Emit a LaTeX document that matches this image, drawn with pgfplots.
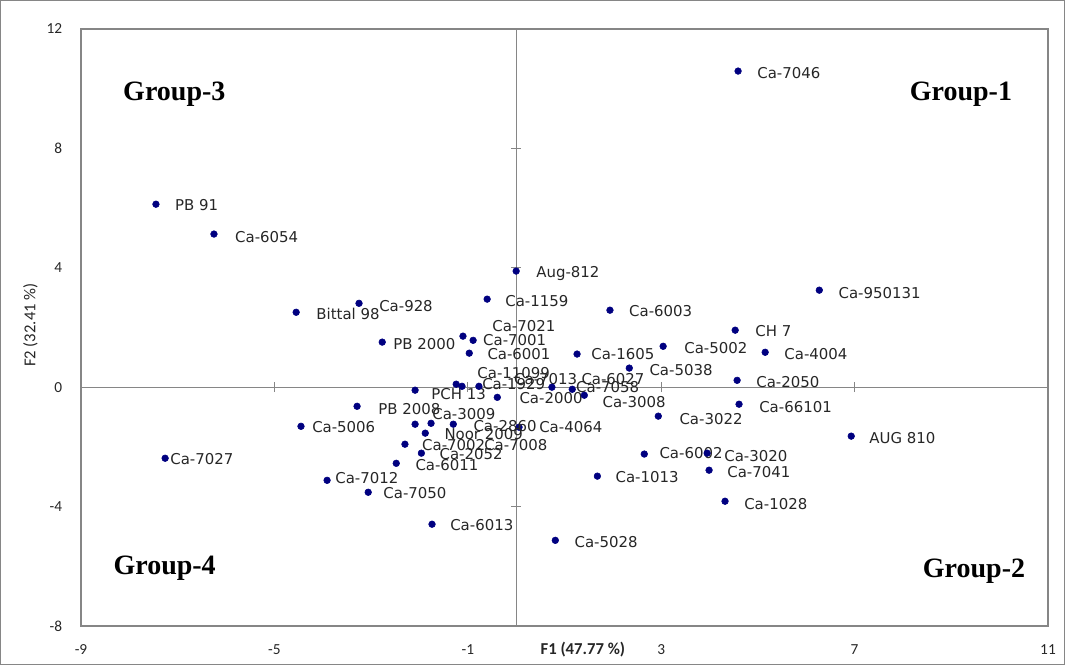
\documentclass[border=0pt]{standalone}
\usepackage{fontspec}
\usepackage{pgfplots}
\usepackage{pgfplotstable}
\pgfplotsset{compat=1.18}
\setmainfont{DejaVu Sans}
\newfontfamily\calfont{Carlito}
\newfontfamily\grpfont{Liberation Serif}
\definecolor{ptc}{RGB}{0,0,128}
\definecolor{frc}{RGB}{134,134,134}

\pgfplotstableread[col sep=comma]{
x,y,dx,dy,label
-7.45,6.13,19,-1,PB 91
-6.25,5.13,21,-3,Ca-6054
-4.55,2.51,20,-2,Bittal 98
-3.25,2.81,20,-3,Ca-928
-2.77,1.51,11,-2,PB 2000
4.59,10.59,19,-2,Ca-7046
0.00,3.89,20,-2,Aug-812
-0.60,2.95,18,-2,Ca-1159
1.94,2.58,19,-1,Ca-6003
6.27,3.25,19,-3,Ca-950131
4.53,1.91,20,-1,CH 7
3.04,1.37,21,-2,Ca-5002
5.15,1.17,19,-2,Ca-4004
1.26,1.11,14,0,Ca-1605
2.34,0.64,20,-2,Ca-5038
4.57,0.23,19,-2,Ca-2050
4.61,-0.57,20,-3,Ca-66101
6.93,-1.64,18,-2,AUG 810
2.94,-0.97,21,-3,Ca-3022
2.65,-2.24,15,1,Ca-6002
3.95,-2.21,17,-3,Ca-3020
3.99,-2.78,18,-2,Ca-7041
4.32,-3.82,19,-3,Ca-1028
1.68,-2.98,18,-1,Ca-1013
0.81,-5.13,19,-2,Ca-5028
-1.74,-4.59,18,-1,Ca-6013
-3.06,-3.52,15,-1,Ca-7050
-3.91,-3.12,8,2,Ca-7012
-7.26,-2.38,5,-1,Ca-7027
-4.45,-1.31,11,-1,Ca-5006
-3.29,-0.64,21,-3,PB 2008
-1.10,1.71,20,-4,Ca-7001
-0.89,1.57,19,14,Ca-7021
-0.97,1.14,18,-1,Ca-6001
-2.09,-0.10,16,-4,PCH 13
-1.24,0.10,21,11,Ca-11099
-1.12,0.03,20,2,Ca-1929
-0.77,0.03,35,7,Ca-7013
-0.39,-0.34,22,-1,Ca-2000
0.74,0.00,24,0,Ca-7058
1.16,-0.07,9,10,Ca-6027
1.41,-0.27,18,-7,Ca-3008
0.06,-1.34,20,0,Ca-4064
-2.09,-1.24,17,10,Ca-3009
-1.76,-1.21,53,-22,Ca-7008
-1.88,-1.54,19,-1,Noor 2009
-1.30,-1.24,20,-2,Ca-2860
-2.30,-1.91,17,-1,Ca-7002
-1.96,-2.21,18,-1,Ca-2052
-2.48,-2.55,19,-2,Ca-6011
}\pcadata

\begin{document}
\begin{tikzpicture}
% central cross lines with crossing ticks
\begin{axis}[
  width=725.25pt, height=447.75pt, scale only axis,
  xmin=-9, xmax=11, ymin=-8, ymax=12,
  axis lines=middle,
  axis line style={frc, line width=0.8pt, -},
  xtick={-9,-5,-1,3,7,11}, ytick={-8,-4,0,4,8,12},
  xticklabels={}, yticklabels={},
  tick align=center, major tick length=7.5pt,
  tick style={frc, line width=0.8pt},
]
\end{axis}
% main axis: frame, tick labels, data
\begin{axis}[
  name=main,
  width=725.25pt, height=447.75pt, scale only axis,
  xmin=-9, xmax=11, ymin=-8, ymax=12,
  axis line style={frc, line width=0.8pt},
  xtick={-9,-5,-1,3,7,11}, ytick={-8,-4,0,4,8,12},
  major tick length=0pt, tick style={draw=none},
  /pgf/number format/assume math mode=true,
  ticklabel style={font=\calfont\fontsize{11.5}{13}\selectfont, text=black!85},
  xticklabel style={anchor=center, inner sep=0pt, yshift=-18pt},
  yticklabel style={anchor=east, inner sep=0pt, xshift=-14pt},
  xlabel={F1 (47.77 \%)},
  ylabel={F2 (32.41 \%)},
  every axis x label/.style={at={(rel axis cs:0.519,0)}, anchor=center, yshift=-18pt,
     font=\calfont\bfseries\fontsize{12.5}{14}\selectfont, text=black!85},
  every axis y label/.style={at={(rel axis cs:0,0.504)}, anchor=center, xshift=-38pt, rotate=90,
     font=\calfont\fontsize{12.5}{14}\selectfont, text=black!85},
  clip=false,
]
\addplot[only marks, mark=*, mark size=2.5pt, color=ptc,
  point meta=explicit symbolic,
  visualization depends on={\thisrow{dx}\as\lx},
  visualization depends on={\thisrow{dy}\as\ly},
  nodes near coords,
  nodes near coords align={anchor=west},
  every node near coord/.append style={anchor=west, inner sep=0pt, text=black!85,
     font=\fontsize{11.2}{13}\selectfont, xshift={\lx*0.75pt}, yshift={\ly*0.75pt}},
] table[x=x, y=y, meta=label] {\pcadata};

\node[font=\grpfont\bfseries\fontsize{21}{24}\selectfont] at (axis cs:-7.07,9.82) {Group-3};
\node[font=\grpfont\bfseries\fontsize{21}{24}\selectfont] at (axis cs:9.20,9.82) {Group-1};
\node[font=\grpfont\bfseries\fontsize{21}{24}\selectfont] at (axis cs:-7.27,-6.06) {Group-4};
\node[font=\grpfont\bfseries\fontsize{21}{24}\selectfont] at (axis cs:9.47,-6.16) {Group-2};
\end{axis}
\draw[frc, line width=0.8pt] ([xshift=-60.35pt, yshift=-28.85pt]main.south west)
   rectangle ([xshift=12.35pt, yshift=21.35pt]main.north east);
\end{tikzpicture}
\end{document}
